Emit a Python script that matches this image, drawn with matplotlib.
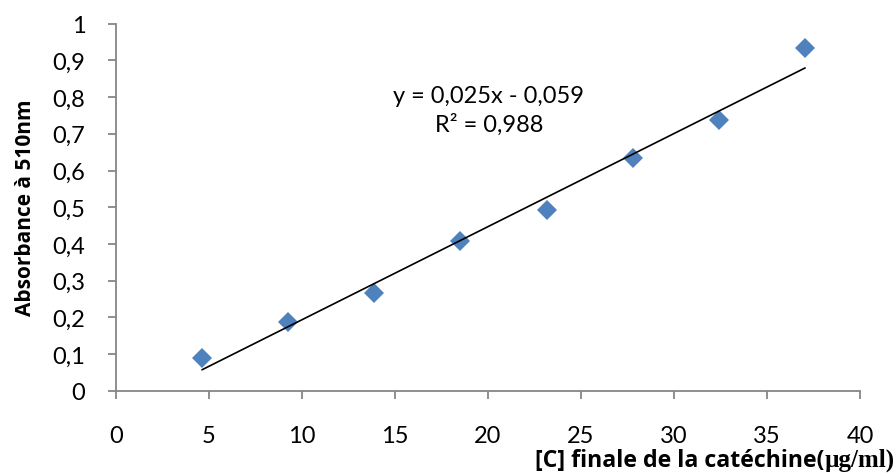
import numpy as np
import matplotlib.pyplot as plt

# catechin calibration data
conc = [4.63, 9.26, 13.89, 18.52, 23.15, 27.78, 32.41, 37.04]
absorb = [0.089, 0.186, 0.265, 0.408, 0.493, 0.633, 0.738, 0.934]
x_ticks = [0, 5, 10, 15, 20, 25, 30, 35, 40]
y_ticks = [0, 0.1, 0.2, 0.3, 0.4, 0.5, 0.6, 0.7, 0.8, 0.9, 1.0]
eq_text = "y = 0,025x - 0,059\nR² = 0,988"

plt.rcParams['font.family'] = ['Lato', 'DejaVu Sans']

fig = plt.figure(figsize=(8.96, 4.77), dpi=100)
ax = fig.add_axes([0.1295, 0.1788, 0.8303, 0.7694])

ax.plot(conc, absorb, linestyle='none', marker='D', markersize=10,
        color='#4F81BD', markeredgewidth=0, zorder=3)

# linear trendline over the data range
slope, icpt = np.polyfit(conc, absorb, 1)
xs = np.array([min(conc), max(conc)])
ax.plot(xs, slope * xs + icpt, color='black', linewidth=1.2, zorder=4)

ax.set_xlim(0, 40)
ax.set_ylim(0, 1)
ax.set_xticks(x_ticks)
ax.set_yticks(y_ticks)
ax.set_xticklabels([str(v) for v in x_ticks])
ax.set_yticklabels([f"{v:g}".replace('.', ',') for v in y_ticks])

for side in ['top', 'right']:
    ax.spines[side].set_visible(False)
for side in ['left', 'bottom']:
    ax.spines[side].set_color('#868686')
    ax.spines[side].set_linewidth(1.3)
ax.tick_params(axis='both', direction='out', length=6, width=1.3,
               color='#868686', labelsize=17, labelcolor='black')
ax.tick_params(axis='y', pad=16)
ax.tick_params(axis='x', pad=19)

ax.set_ylabel("Absorbance à 510nm", fontsize=15, fontweight='bold',
              family='Open Sans', labelpad=0)
ax.yaxis.set_label_coords(-0.108, 0.5)

# x label: sans part then serif unit part, sharing one baseline
base_y = 0.021
t_unit = fig.text(0.998, base_y, "µg/ml)", fontsize=18, fontweight='bold',
                  family='Liberation Serif', ha='right', va='baseline')
ax.annotate("[C] finale de la catéchine(", xy=(0, base_y),
            xycoords=(t_unit, 'figure fraction'),
            fontsize=16.7, fontweight='bold', family='Open Sans',
            ha='right', va='baseline')

ax.text(0.501, 0.765, eq_text, transform=ax.transAxes, fontsize=17,
        ha='center', va='center', linespacing=1.35)

fig.savefig('out.png', dpi=100)
